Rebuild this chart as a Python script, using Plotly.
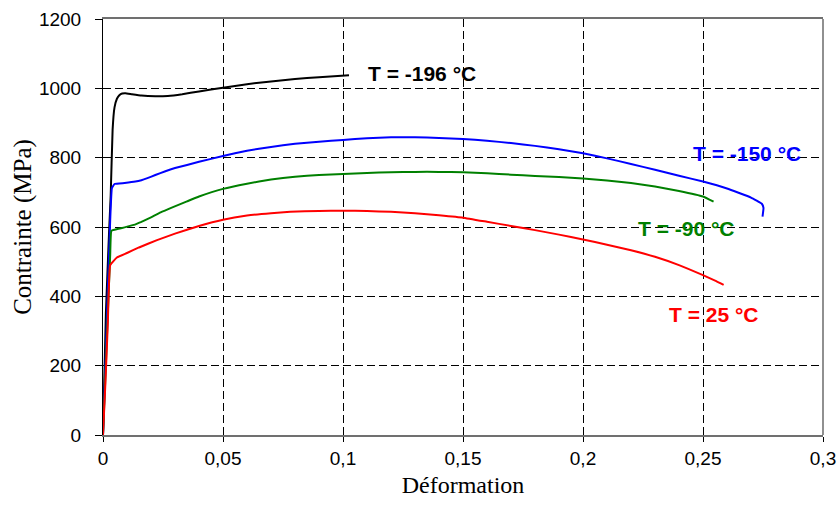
import plotly.graph_objects as go

# ---- data (deformation, stress in MPa) ----
x_m196 = [0, 0.0012, 0.0025, 0.0032, 0.004, 0.0048, 0.0058, 0.0068, 0.008, 0.0093, 0.012, 0.016,
          0.0218, 0.027, 0.033, 0.04, 0.05, 0.06, 0.07, 0.08, 0.09, 0.1025]
y_m196 = [0, 350, 580, 690, 880, 945, 970, 980, 985, 986, 983, 979,
          977, 978, 983, 991, 1002, 1012, 1020, 1027, 1032, 1038]

x_m150 = [0, 0.001, 0.002, 0.003, 0.0037, 0.0048, 0.009, 0.0135, 0.016, 0.0185, 0.0218, 0.026,
          0.03, 0.04, 0.05, 0.06,
          0.07, 0.08, 0.09, 0.1, 0.11, 0.12, 0.13, 0.14, 0.15, 0.16, 0.17, 0.18, 0.19, 0.2,
          0.21, 0.22, 0.23, 0.24, 0.25, 0.26, 0.27, 0.2745, 0.2752, 0.2748]
y_m150 = [0, 200, 420, 620, 712, 724, 727, 731, 735, 741, 750, 761,
          770, 788, 805, 820,
          831, 840, 846, 851, 856, 859, 859, 857, 854, 849, 842, 834, 824, 813,
          798, 782, 765, 748, 731, 711, 685, 667, 655, 630]

x_m90 = [0, 0.001, 0.002, 0.003, 0.0035, 0.006, 0.009, 0.0128, 0.016, 0.02, 0.024, 0.0294, 0.035,
         0.04, 0.05, 0.06, 0.07,
         0.08, 0.09, 0.1, 0.11, 0.12, 0.13, 0.14, 0.15, 0.16, 0.17, 0.18, 0.19, 0.2,
         0.21, 0.22, 0.23, 0.24, 0.25, 0.2544]
y_m90 = [0, 170, 350, 520, 589, 594, 599, 606, 615, 628, 642, 658, 674,
         688, 710, 725, 737,
         745, 750, 753, 756, 758, 759, 759, 758, 755, 751, 747, 744, 740,
         734, 727, 717, 704, 688, 673]

x_25 = [0, 0.001, 0.002, 0.003, 0.0058, 0.01, 0.015, 0.0225, 0.03, 0.04, 0.05, 0.06, 0.07, 0.078,
        0.09, 0.1, 0.11, 0.12, 0.13, 0.14, 0.15, 0.16, 0.17, 0.18, 0.19, 0.2,
        0.21, 0.22, 0.23, 0.24, 0.25, 0.2555, 0.2586]
y_25 = [0, 150, 320, 490, 512, 525, 541, 562, 581, 603, 621, 633, 640, 644,
        646, 647, 646, 644, 640, 634, 627, 615, 603, 591, 578, 564,
        549, 533, 514, 490, 461, 444, 433]

series_names = ["T = -196 °C", "T = -150 °C", "T = -90 °C", "T = 25 °C"]
series_colors = ["#000000", "#0000FF", "#008000", "#FF0000"]
label_x = [0.1329, 0.2683, 0.2431, 0.2544]
label_y = [1043, 811, 597, 347]

x_tickvals = [0, 0.05, 0.1, 0.15, 0.2, 0.25, 0.3]
x_ticktext = ["0", "0,05", "0,1", "0,15", "0,2", "0,25", "0,3"]
y_tickvals = [0, 200, 400, 600, 800, 1000, 1200]
y_ticktext = ["0", "200", "400", "600", "800", "1000", "1200"]

xs = [x_m196, x_m150, x_m90, x_25]
ys = [y_m196, y_m150, y_m90, y_25]

fig = go.Figure()
for xv, yv, name, col in zip(xs, ys, series_names, series_colors):
    fig.add_trace(go.Scatter(x=xv, y=yv, mode="lines", name=name,
                             line=dict(color=col, width=2, shape="spline", smoothing=0.3),
                             showlegend=False))

for name, col, lx, ly in zip(series_names, series_colors, label_x, label_y):
    fig.add_annotation(x=lx, y=ly, text="<b>" + name + "</b>", showarrow=False,
                       font=dict(family="Liberation Sans, Arial", size=21, color=col),
                       xanchor="center", yanchor="middle")

fig.update_layout(
    width=838, height=509,
    margin=dict(l=103, r=15, t=19, b=74),
    paper_bgcolor="white", plot_bgcolor="white",
    xaxis=dict(range=[0, 0.3], tickvals=x_tickvals, ticktext=x_ticktext, automargin=False,
               showgrid=True, gridcolor="#000000", gridwidth=1, griddash="8px,4px",
               zeroline=False, showline=True, linecolor="#707070", linewidth=2, mirror=True,
               ticks="outside", ticklen=5, tickcolor="#000000",
               tickfont=dict(family="Liberation Sans, Arial", size=19, color="black"),
               title=dict(text="Déformation", standoff=8,
                          font=dict(family="Liberation Serif, Times New Roman", size=24, color="black"))),
    yaxis=dict(range=[0, 1200], tickvals=y_tickvals, ticktext=y_ticktext, automargin=False,
               showgrid=True, gridcolor="#000000", gridwidth=1, griddash="8px,4px",
               zeroline=False, showline=True, linecolor="#000000", linewidth=1,
               ticks="outside", ticklen=7, tickcolor="#000000", ticklabelstandoff=10,
               tickfont=dict(family="Liberation Sans, Arial", size=19, color="black"),
               title=dict(text="Contrainte (MPa)", standoff=0,
                          font=dict(family="Liberation Serif, Times New Roman", size=25, color="black"))),
)
fig.add_shape(type="line", xref="x domain", yref="y domain", x0=1, x1=1, y0=0, y1=1,
              line=dict(color="#909090", width=2))

fig.write_html("out.html")
